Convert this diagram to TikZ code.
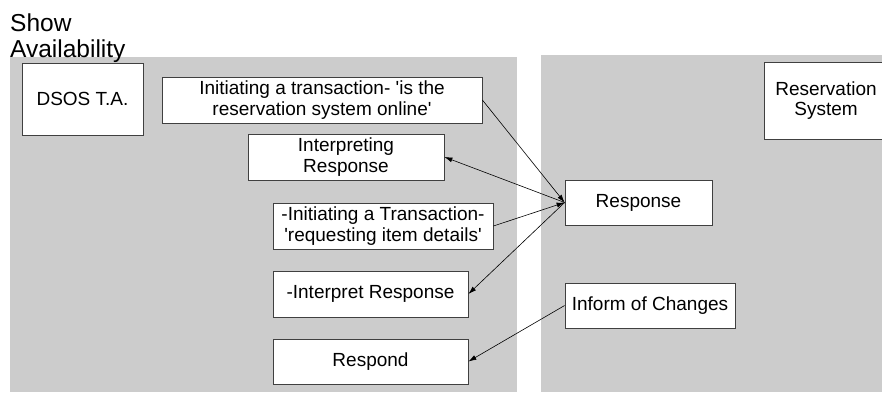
\documentclass[tikz,border=0pt]{standalone}
\usepackage{fontspec}
\setmainfont{Liberation Sans}
\usepackage{tikz}
\usetikzlibrary{
    arrows.meta,
    positioning,
}
\colorlet{LaneBG}{black!20}
\tikzstyle{lane}=[fill=LaneBG,draw=none]
\tikzstyle{box}=[draw=black!75,fill=white,rectangle,line width=.8pt,align=center,inner sep=1mm,font=\fontsize{19}{20.5}\selectfont]
\tikzstyle{msg}=[->,line width=.6pt]
\tikzset{
    >={Latex[length=8pt,width=5pt]}
}
\newcommand{\q}{\textquotesingle}

\begin{document}
\begin{tikzpicture}[x=1pt,y=-1pt]
    \useasboundingbox (0,0) rectangle (882,392);
    % Lanes
    \fill[lane] (10,57) rectangle (517,392);
    \fill[lane] (541,55) rectangle (882,392);
    \node[anchor=north west,align=left,inner sep=0pt,font=\fontsize{24.5}{26}\selectfont] (title) at (10,14) {Show\\Availability};

    % DSOS T.A. side
    \node[box,minimum width=121pt,minimum height=72pt] (DSOS) at (82.5,99) {DSOS T.A.};
    \node[box,minimum width=320pt,minimum height=46pt] (Initiate online) at (322,100) {Initiating a transaction- \q is the\\reservation system online\q};
    \node[box,minimum width=196pt,minimum height=46pt] (Interpreting) at (346,157) {Interpreting\\Response};
    \node[box,minimum width=220pt,minimum height=46pt] (Initiate details) at (383,226) {-Initiating a Transaction-\\\q requesting item details\q};
    \node[box,minimum width=195pt,minimum height=46pt] (Interpret) at (370.5,294) {-Interpret Response};
    \node[box,minimum width=195pt,minimum height=45pt] (Respond) at (370.5,361.5) {Respond};

    % Reservation System side
    \node[box,minimum width=124pt,minimum height=77pt] (System) at (826,100.5) {Reservation\\System};
    \node[box,minimum width=147pt,minimum height=45pt] (Response) at (638.5,202.5) {Response};
    \node[box,minimum width=170pt,minimum height=45pt] (Inform) at (650,305.5) {Inform of Changes};

    % Messages
    \draw[msg] (Initiate online.east) -- (Response.west);
    \draw[msg] (Response.west) -- (Interpreting.east);
    \draw[msg] (Initiate details.east) -- (Response.west);
    \draw[msg] (Response.west) -- (Interpret.east);
    \draw[msg] (Inform.west) -- (Respond.east);
\end{tikzpicture}
\end{document}
